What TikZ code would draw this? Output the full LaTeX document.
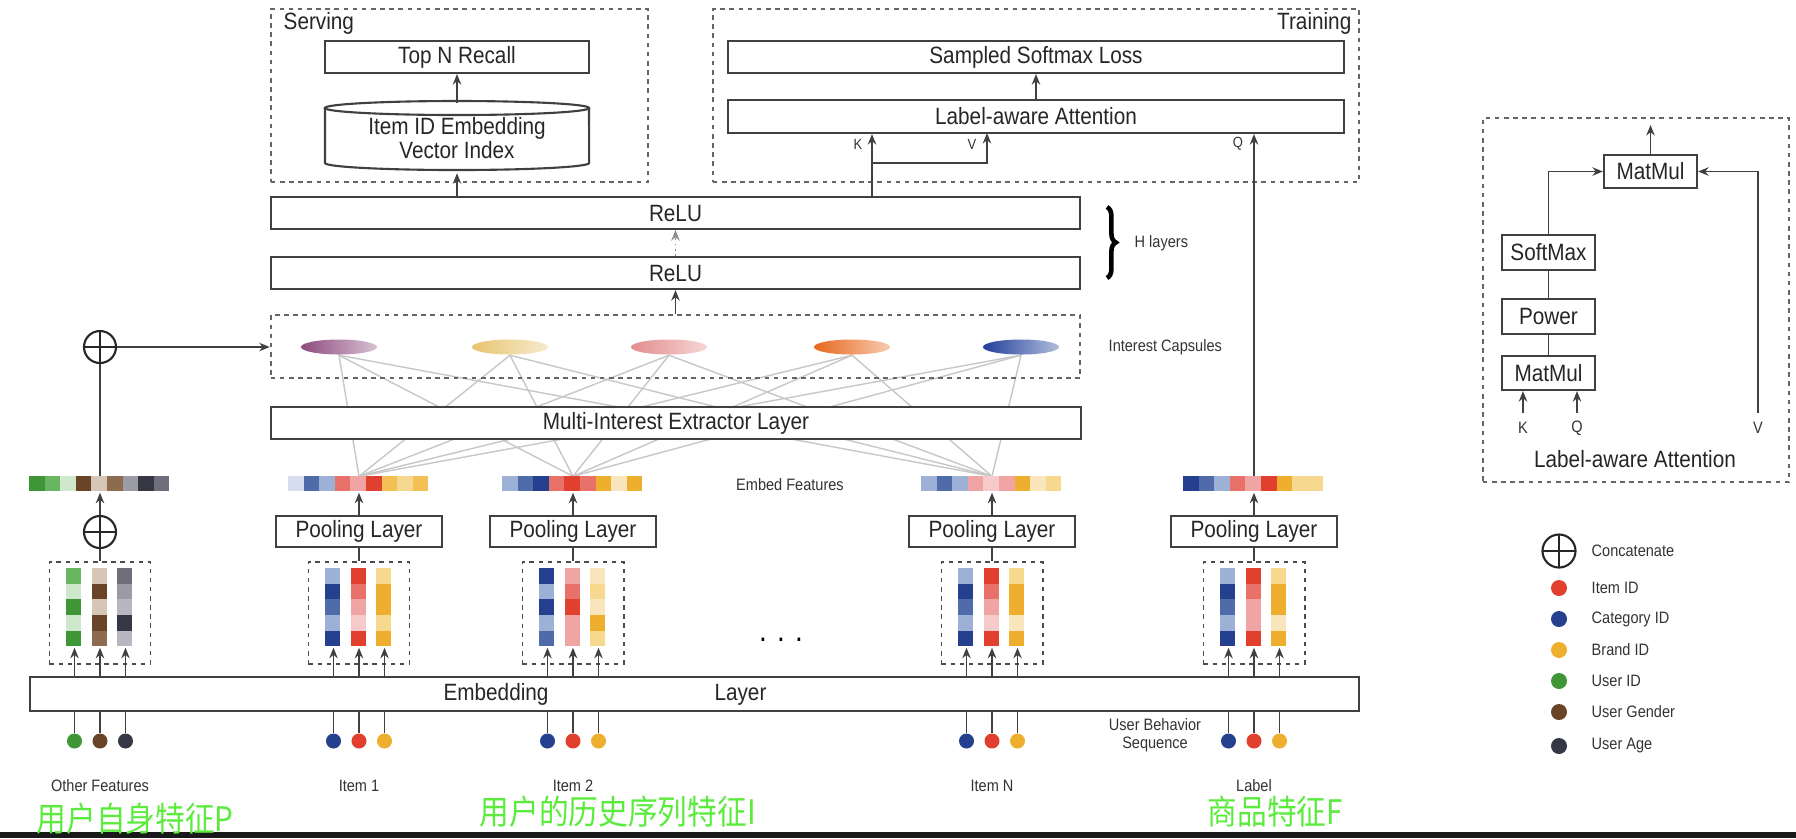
\documentclass[tikz,border=0pt]{standalone}
\usepackage{fontspec}
\setmainfont{Liberation Sans}[FakeStretch=0.88]
\newfontfamily\cjk{Noto Sans CJK SC}[FakeStretch=0.88]
\usetikzlibrary{arrows.meta,shapes.geometric,backgrounds,decorations.pathreplacing,calc}

\definecolor{bD}{HTML}{24408E}
\definecolor{bM}{HTML}{4F6BAA}
\definecolor{bL}{HTML}{9DB0D6}
\definecolor{bVL}{HTML}{D5DDEE}
\definecolor{rD}{HTML}{E2402E}
\definecolor{rM}{HTML}{E8716A}
\definecolor{rL}{HTML}{F0A4A4}
\definecolor{rVL}{HTML}{F6CACA}
\definecolor{yD}{HTML}{EFAF2E}
\definecolor{yM}{HTML}{F2C054}
\definecolor{yL}{HTML}{F6D88E}
\definecolor{yVL}{HTML}{F9E6BC}
\definecolor{gD}{HTML}{3E9636}
\definecolor{gM}{HTML}{6AB562}
\definecolor{gL}{HTML}{CFE7CA}
\definecolor{nD}{HTML}{6A4426}
\definecolor{nM}{HTML}{8C6B4E}
\definecolor{nL}{HTML}{D6C6B6}
\definecolor{kD}{HTML}{363744}
\definecolor{kM}{HTML}{6E6F7A}
\definecolor{kG}{HTML}{9A9BA4}
\definecolor{kL}{HTML}{B6B7C0}
\definecolor{cp1}{HTML}{8E4C80}
\definecolor{cp2}{HTML}{E8C470}
\definecolor{cp3}{HTML}{E48C8C}
\definecolor{cp4}{HTML}{E8681E}
\definecolor{cp5}{HTML}{22409A}
\definecolor{cngreen}{RGB}{90,235,60}

\newcommand{\mainsize}{\fontsize{6.7}{7}\selectfont}
\newcommand{\notesize}{\fontsize{4.7}{5.2}\selectfont}

\tikzset{
  box/.style={draw=black!75, line width=0.6pt, fill=white, inner sep=0pt, font=\mainsize, text=black!85},
  region/.style={draw=black!60, line width=0.55pt, dash pattern=on 1.3pt off 1.3pt, inner sep=0pt},
  note/.style={font=\notesize, text=black!80, inner sep=0pt},
  link/.style={draw=black!75, line width=0.5pt},
  arr/.style={link, -{Stealth[length=3pt,width=2.4pt]}},
  wire/.style={draw=black!22, line width=0.4pt},
  capsule/.style={ellipse, minimum width=0.76cm, minimum height=0.15cm, inner sep=0pt},
  dot/.style={circle, minimum size=0.15cm, inner sep=0pt},
  concat/.style={circle, draw=black!85, line width=0.6pt, minimum size=0.32cm, inner sep=0pt,
    path picture={\draw[black!85, line width=0.6pt]
      (path picture bounding box.north) -- (path picture bounding box.south)
      (path picture bounding box.west) -- (path picture bounding box.east);}},
  cn/.style={font=\cjk\fontsize{9.6}{10}\selectfont, text=cngreen, inner sep=0pt, anchor=west}
}

\begin{document}
\begin{tikzpicture}[x=0.01cm, y=-0.01cm]
  \useasboundingbox (0,0) rectangle (1796,838);
  \fill[black!90] (0,832) rectangle (1796,838);

  % serving
  \node[region, minimum width=3.77cm, minimum height=1.73cm] (serving) at (459.5,95.5) {};
  \node[anchor=west, font=\mainsize, text=black!85, inner sep=0pt] (servtxt) at (283,23) {Serving};
  \node[box, minimum width=2.64cm, minimum height=0.32cm] (topn) at (457,57) {Top N Recall};
  \node[font=\mainsize, text=black!85, align=center, inner sep=0pt, minimum width=2.64cm, minimum height=0.69cm] (index) at (457,138) {Item ID Embedding\\Vector Index};
  \draw[link, line width=0.6pt] (325,108) -- (325,163) arc[start angle=180, end angle=360, x radius=1.32cm, y radius=0.07cm] -- (589,108);
  \draw[link, line width=0.6pt] (457,108) ellipse [x radius=1.32cm, y radius=0.07cm];
  \draw[arr] (index.north) -- (topn.south);

  % training
  \node[region, minimum width=6.46cm, minimum height=1.73cm] (training) at (1036,95.5) {};
  \node[anchor=east, font=\mainsize, text=black!85, inner sep=0pt] (traintxt) at (1352,23) {Training};
  \node[box, minimum width=6.16cm, minimum height=0.32cm] (loss) at (1036,57) {Sampled Softmax Loss};
  \node[box, minimum width=6.16cm, minimum height=0.33cm] (laa) at (1036,116.5) {Label-aware Attention};
  \draw[arr] (laa.north) -- (loss.south);

  % H layers
  \node[box, minimum width=8.09cm, minimum height=0.32cm] (relu1) at (675.5,213) {ReLU};
  \node[box, minimum width=8.09cm, minimum height=0.32cm] (relu2) at (675.5,273) {ReLU};
  \draw[arr, densely dotted, black!45] (relu2.north) -- (relu1.south);
  \draw[arr] (relu1.north -| index) -- (index.south);
  \draw[decorate, decoration={brace, amplitude=2.5pt}, line width=1.3pt] (1107,207) -- (1107,278);
  \node[note, anchor=west] (hlay) at (1134,243) {H layers};

  \coordinate (kfork) at (872,163);
  \coordinate (vtap) at (987,133);
  \draw[arr] (relu1.north -| kfork) -- (laa.south -| kfork);
  \draw[arr] (kfork) -| (vtap);
  \node[note, font=\fontsize{4.2}{4.2}\selectfont] (klab) at (858,144) {K};
  \node[note, font=\fontsize{4.2}{4.2}\selectfont] (vlab) at (972,144) {V};
  \node[note, font=\fontsize{4.2}{4.2}\selectfont] (qlab) at (1238,144) {Q};

  % interest capsules
  \node[region, minimum width=8.09cm, minimum height=0.63cm] (caps) at (675.5,346.5) {};
  \draw[arr] (caps.north) -- (relu2.south);
  \foreach \i/\x/\c in {1/339/cp1, 2/510/cp2, 3/669/cp3, 4/852/cp4, 5/1021/cp5}
    \node[capsule, left color=\c, right color=\c!35] (cap\i) at (\x,347) {};
  \node[note, anchor=west] (captxt) at (1108,347) {Interest Capsules};
  \node[concat] (p1) at (100,347) {};
  \draw[arr] (p1.east) -- (p1.east -| caps.west);

  \node[box, minimum width=8.09cm, minimum height=0.32cm] (mie) at (676,423) {Multi-Interest Extractor Layer};

  % embedding layer and feature groups
  \node[box, minimum width=13.29cm, minimum height=0.34cm] (emb) at (694.5,694) {};
  \node[font=\mainsize, text=black!85, inner sep=0pt] (embtxt) at (605,694) {Embedding\hspace{1.66cm}Layer};
  \coordinate (dotrow) at (0,741);

  \foreach \g/\cx/\txt in {oth/100/Other Features, it1/359/Item 1, it2/573/Item 2, itn/992/Item N, lbl/1254/Label}
  {
    \node[region, draw=black!70, minimum width=1.01cm, minimum height=1.02cm] (box-\g) at (\cx,613) {};
    \node[inner sep=0pt, minimum width=1.4cm, minimum height=0.15cm] (bar-\g) at (\cx,484.5) {};
    \node[note] (lab-\g) at (\cx,786) {\txt};
    \foreach \k in {1,2,3}
    {
      \pgfmathsetmacro{\x}{\cx+25.5*(\k-2)}
      \node[inner sep=0pt, minimum width=0.15cm, minimum height=0.78cm] (col-\g-\k) at (\x,608) {};
      \draw[arr] (emb.north -| col-\g-\k) -- (col-\g-\k.south);
    }
  }

  \foreach \g/\cols in {oth/{gD,gM,gL,nD,nL,nM,kG,kD,kM}, it1/{bVL,bM,bL,rM,rL,rD,yM,yL,yM},
      it2/{bL,bM,bD,rM,rD,rM,yD,yVL,yD}, itn/{bL,bM,bL,rL,rVL,rL,yD,yVL,yL}, lbl/{bD,bM,bL,rM,rL,rD,yD,yL,yL}}
    \foreach \c [count=\i] in \cols
      \fill[\c] ($(bar-\g.north west)+({15.55*(\i-1)},0)$) rectangle ++(15.55,15);

  \foreach \g/\k/\cols in {oth/1/{gM,gL,gD,gL,gD}, oth/2/{nL,nD,nL,nD,nM}, oth/3/{kM,kG,kL,kD,kL},
      it1/1/{bL,bD,bM,bL,bD}, it1/2/{rD,rM,rL,rVL,rD}, it1/3/{yL,yD,yD,yL,yD},
      it2/1/{bD,bL,bD,bL,bM}, it2/2/{rL,rM,rD,rL,rL}, it2/3/{yVL,yL,yVL,yD,yL},
      itn/1/{bL,bD,bM,bL,bD}, itn/2/{rD,rM,rL,rVL,rD}, itn/3/{yL,yD,yD,yVL,yD},
      lbl/1/{bL,bD,bM,bL,bD}, lbl/2/{rD,rM,rL,rL,rD}, lbl/3/{yL,yD,yD,yVL,yD}}
    \foreach \c [count=\i] in \cols
      \fill[\c] ($(col-\g-\k.north west)+(0,{15.6*(\i-1)})$) rectangle ++(15,15.6);

  \foreach \g/\k/\c in {oth/1/gD, oth/2/nD, oth/3/kD, it1/1/bD, it1/2/rD, it1/3/yD,
      it2/1/bD, it2/2/rD, it2/3/yD, itn/1/bD, itn/2/rD, itn/3/yD, lbl/1/bD, lbl/2/rD, lbl/3/yD}
  {
    \node[dot, fill=\c] (dot-\g-\k) at (col-\g-\k |- dotrow) {};
    \draw[link] (dot-\g-\k.north) -- (dot-\g-\k |- emb.south);
  }

  \foreach \g in {it1,it2,itn,lbl}
  {
    \node[box, minimum width=1.66cm, minimum height=0.31cm] (pool-\g) at (box-\g.north |- 0,531.5) {Pooling Layer};
    \draw[link] (box-\g.north) -- (pool-\g.south);
    \draw[arr] (pool-\g.north) -- (bar-\g.south);
  }
  \node[concat] (p2) at (100,532) {};
  \draw[link] (box-oth.north) -- (p2.south);
  \draw[arr] (p2.north) -- (bar-oth.south);
  \draw[link] (bar-oth.north) -- (p1.south);
  \draw[arr] (bar-lbl.north) -- (laa.south -| bar-lbl.north);

  \begin{scope}[on background layer]
    \foreach \i in {1,...,5}
      \foreach \g in {it1,it2,itn}
        \draw[wire] (cap\i.south) -- (bar-\g.north);
  \end{scope}

  \node[note] (embfeat) at (790,485) {Embed Features};
  \node[font=\fontsize{9}{9}\selectfont, inner sep=0pt] (gap) at (781,640) {. . .};
  \node[note, align=center] (ubs) at (1155,735) {User Behavior\\Sequence};

  \node[cn] (cnp) at (36,819) {用户自身特征P};
  \node[cn] (cni) at (479,812) {用户的历史序列特征I};
  \node[cn] (cnf) at (1207,812) {商品特征F};

  % label-aware attention detail
  \node[region, minimum width=3.06cm, minimum height=3.64cm] (lapanel) at (1636,300) {};
  \node[box, minimum width=0.93cm, minimum height=0.33cm] (mm2) at (1650.5,171.5) {MatMul};
  \node[box, minimum width=0.93cm, minimum height=0.35cm] (smax) at (1548.5,252.5) {SoftMax};
  \node[box, minimum width=0.93cm, minimum height=0.35cm] (power) at (1548.5,316.5) {Power};
  \node[box, minimum width=0.93cm, minimum height=0.34cm] (mm1) at (1548.5,373) {MatMul};
  \coordinate (out) at (1650.5,125);
  \coordinate (vsrc) at (1758,413);
  \coordinate (ksrc) at (1523,413);
  \coordinate (qsrc) at (1577,413);
  \draw[arr] (mm2.north) -- (out);
  \draw[arr] (smax.north) |- (mm2.west);
  \draw[arr] (vsrc) |- (mm2.east);
  \draw[link] (mm1.north) -- (power.south);
  \draw[link] (power.north) -- (smax.south);
  \draw[arr] (ksrc) -- (ksrc |- mm1.south);
  \draw[arr] (qsrc) -- (qsrc |- mm1.south);
  \node[note] (k2) at (1523,428) {K};
  \node[note] (q2) at (1577,428) {Q};
  \node[note] (v2) at (1758,428) {V};
  \node[font=\mainsize, text=black!85, inner sep=0pt] (latxt) at (1635,459) {Label-aware Attention};

  % legend
  \node[concat, minimum size=0.33cm] (lg0) at (1559,551) {};
  \node[note, anchor=west] (lgt0) at (1591,551) {Concatenate};
  \foreach \y/\c/\txt [count=\i] in {588/rD/Item ID, 619/bD/Category ID, 650/yD/Brand ID,
      681/gD/User ID, 712/nD/User Gender, 746/kD/User Age}
  {
    \node[dot, minimum size=0.16cm, fill=\c] (lg\i) at (1559,\y) {};
    \node[note, anchor=west] (lgt\i) at (1591,\y) {\txt};
  }
\end{tikzpicture}
\end{document}
